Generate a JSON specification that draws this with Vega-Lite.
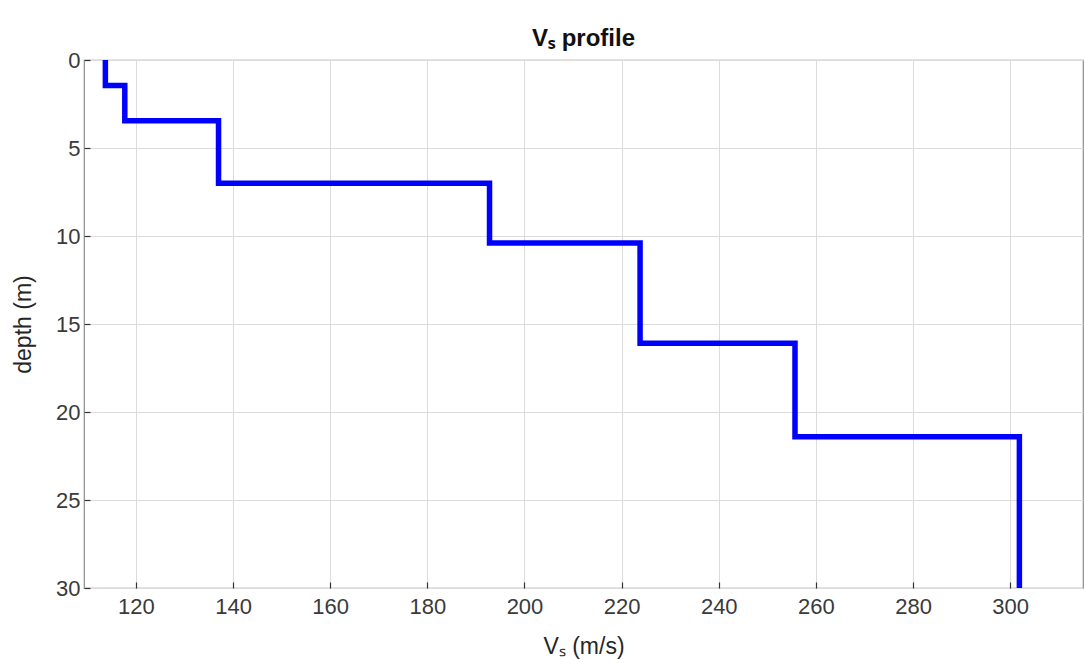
{
  "$schema": "https://vega.github.io/schema/vega-lite/v6.json",
  "autosize": {"type": "none"},
  "width": 999,
  "height": 528,
  "padding": {"left": 84, "top": 60, "right": 1, "bottom": 83},
  "background": "white",
  "title": {
    "text": "Vₛ profile",
    "font": "Liberation Sans",
    "fontSize": 24,
    "fontWeight": "bold",
    "color": "#111111",
    "anchor": "middle",
    "frame": "group",
    "baseline": "bottom",
    "offset": 16,
    "dy": 42
  },
  "config": {
    "view": {"stroke": "#8c8c8c", "strokeWidth": 1.2},
    "axis": {
      "labelFont": "Liberation Sans",
      "titleFont": "Liberation Sans",
      "labelFontSize": 22,
      "titleFontSize": 23,
      "labelColor": "#3a3a3a",
      "titleColor": "#262626",
      "titleFontWeight": "normal",
      "gridColor": "#dcdcdc",
      "gridWidth": 1,
      "domain": false,
      "tickColor": "#333333",
      "tickSize": -6,
      "tickWidth": 1.2
    }
  },
  "data": {
    "values": [
      {"i": 0, "vs": 113.7, "depth": 0},
      {"i": 1, "vs": 113.7, "depth": 1.45},
      {"i": 2, "vs": 117.7, "depth": 1.45},
      {"i": 3, "vs": 117.7, "depth": 3.45},
      {"i": 4, "vs": 137.0, "depth": 3.45},
      {"i": 5, "vs": 137.0, "depth": 7.0},
      {"i": 6, "vs": 192.8, "depth": 7.0},
      {"i": 7, "vs": 192.8, "depth": 10.4},
      {"i": 8, "vs": 223.8, "depth": 10.4},
      {"i": 9, "vs": 223.8, "depth": 16.1},
      {"i": 10, "vs": 255.7, "depth": 16.1},
      {"i": 11, "vs": 255.7, "depth": 21.4},
      {"i": 12, "vs": 301.9, "depth": 21.4},
      {"i": 13, "vs": 301.9, "depth": 30}
    ]
  },
  "mark": {"type": "line", "color": "#0000ff", "strokeWidth": 5.5, "strokeJoin": "miter", "clip": true},
  "encoding": {
    "order": {"field": "i", "type": "quantitative"},
    "x": {
      "field": "vs",
      "type": "quantitative",
      "title": "Vₛ (m/s)",
      "scale": {"domain": [109.3, 315], "nice": false, "zero": false},
      "axis": {"values": [120, 140, 160, 180, 200, 220, 240, 260, 280, 300], "labelPadding": 14, "titlePadding": 18}
    },
    "y": {
      "field": "depth",
      "type": "quantitative",
      "title": "depth (m)",
      "scale": {"domain": [0, 30], "reverse": true, "nice": false, "zero": false},
      "axis": {"values": [0, 5, 10, 15, 20, 25, 30], "labelPadding": 10, "titlePadding": 20}
    }
  }
}
